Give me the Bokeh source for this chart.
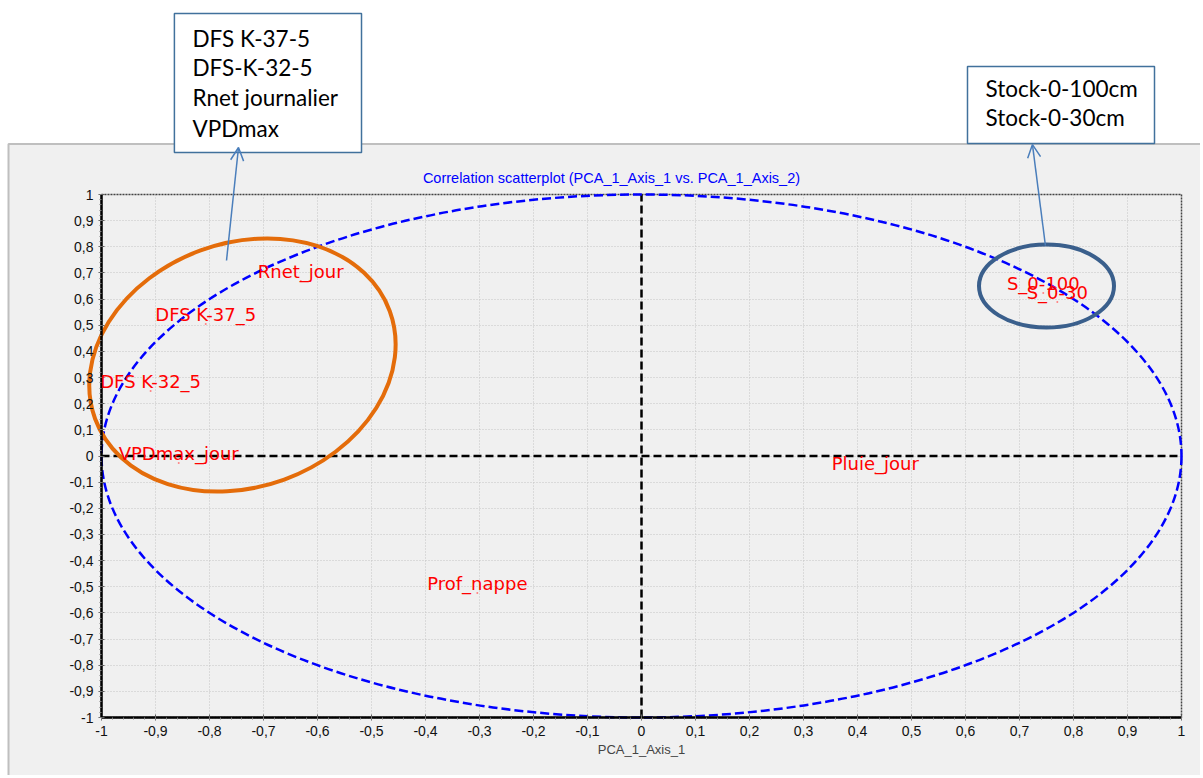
from bokeh.plotting import figure
from bokeh.models import (Range1d, SingleIntervalTicker, CustomJSTickFormatter, LinearAxis, Grid,
                          BoxAnnotation, Label, LabelSet, Arrow, OpenHead, ColumnDataSource)
from bokeh.core.properties import value
from bokeh.embed import file_html
from bokeh.resources import INLINE

# ---- data (variable correlations with PCA axes) ----
var_names = ["Rnet_jour", "DFS K-37_5", "DFS K-32_5", "VPDmax_jour", "Prof_nappe",
             "Pluie_jour", "S_0-100", "S_0-30"]
axis1 = [-0.631, -0.807, -0.909, -0.857, -0.304, 0.433, 0.744, 0.770]
axis2 = [0.669, 0.505, 0.249, -0.027, -0.524, -0.065, 0.623, 0.589]

left_box_lines = ["DFS K-37-5", "DFS-K-32-5", "Rnet journalier", "VPDmax"]
right_box_lines = ["Stock-0-100cm", "Stock-0-30cm"]
title_text = "Correlation scatterplot (PCA_1_Axis_1 vs. PCA_1_Axis_2)"
x_label = "PCA_1_Axis_1"

src = ColumnDataSource(dict(x=axis1, y=axis2, name=var_names))

W, H = 1200, 775
# the plotting frame covers the whole canvas; the [-1, 1] square sits at px 101..1181 / 194..717
XPX, YPX = 540.0, 261.5
x0 = -1 - 101 / XPX
x1 = 1 + (W - 1181) / XPX
y1 = 1 + 194 / YPX
y0 = -1 - (H - 717) / YPX

p = figure(width=W, height=H, output_backend="svg", toolbar_location=None,
           x_range=Range1d(x0, x1), y_range=Range1d(y0, y1),
           x_axis_type=None, y_axis_type=None, min_border=0)
p.background_fill_color = "white"
p.border_fill_color = "white"
p.outline_line_color = None

# grey panel
p.add_layout(BoxAnnotation(left=x0 + 8 / XPX, right=x1 + 1, top=1.193, bottom=y0 - 1,
                           fill_color="#f0f0f0", fill_alpha=1,
                           line_color="#bfbfbf", line_alpha=1, line_width=2, level="image"))

fmt = CustomJSTickFormatter(code="""
    if (Math.abs(tick - Math.round(tick)) < 1e-9) { return String(Math.round(tick)); }
    return tick.toFixed(1).replace('.', ',');
""")

xaxis = LinearAxis(fixed_location=-1, bounds=(-1, 1), axis_label=x_label)
yaxis = LinearAxis(fixed_location=-1, bounds=(-1, 1))
for ax in (xaxis, yaxis):
    ax.ticker = SingleIntervalTicker(interval=0.1, num_minor_ticks=5)
    ax.formatter = fmt
    ax.axis_line_color = "black"
    ax.axis_line_width = 2.5
    ax.major_tick_line_color = "#606060"
    ax.major_tick_in = 3
    ax.major_tick_out = 3
    ax.minor_tick_line_color = "#808080"
    ax.minor_tick_in = 0
    ax.minor_tick_out = 2
    ax.major_label_text_font = "Liberation Sans"
    ax.major_label_text_font_size = "14px"
    ax.major_label_text_color = "#111111"
    ax.major_label_standoff = 5
xaxis.axis_label_text_font = "Liberation Sans"
xaxis.axis_label_text_font_size = "13px"
xaxis.axis_label_text_font_style = "normal"
xaxis.axis_label_standoff = 3
p.add_layout(xaxis, "below")
p.add_layout(yaxis, "left")

for dim, ax in ((0, xaxis), (1, yaxis)):
    p.add_layout(Grid(dimension=dim, axis=ax, ticker=ax.ticker, bounds=(-1, 1), cross_bounds=(-1, 1),
                      grid_line_color="#c4c4c4", grid_line_dash="1 2", grid_line_width=1))

# dotted outline of the plotting area
p.add_layout(BoxAnnotation(left=-1, right=1, top=1, bottom=-1, fill_alpha=0,
                           line_color="#444444", line_alpha=1, line_dash="2 1", line_width=1.5,
                           level="underlay"))

# zero lines
p.segment(x0=[-1, 0], y0=[0, -1], x1=[1, 0], y1=[0, 1], line_color="black",
          line_width=2.5, line_dash="8 4")

# unit correlation circle
p.ellipse(x=0, y=0, width=2, height=2, fill_alpha=0, line_color="#0000ff",
          line_width=2.5, line_dash="9 4")

# highlight ellipses
p.ellipse(x=-0.739, y=0.348, width=0.581, height=0.933, angle=0.35, fill_alpha=0,
          line_color="#e46c0a", line_width=4)
p.ellipse(x=0.75, y=0.65, width=0.25, height=0.317, fill_alpha=0,
          line_color="#3a5f8c", line_width=4)

# points and names
p.scatter(x="x", y="y", source=src, size=2, color="#ff8080", line_width=0)
p.add_layout(LabelSet(x="x", y="y", text="name", source=src, text_color="#ff0000",
                      text_font=value("DejaVu Sans"), text_font_size="18px",
                      text_align="center", text_baseline="alphabetic", y_offset=3))

# title
p.add_layout(Label(x=-0.0556, y=1.065, text=title_text, text_color="#0000ff",
                   text_font="Liberation Sans", text_font_size="14.5px",
                   text_align="center", text_baseline="middle"))

# callout boxes
p.add_layout(BoxAnnotation(left=-0.865, right=-0.5185, top=1.692, bottom=1.1606,
                           fill_color="white", fill_alpha=1, line_color="#41719c",
                           line_alpha=1, line_width=1.5))
for txt, yy in zip(left_box_lines, [1.5966, 1.4857, 1.371, 1.2524]):
    p.add_layout(Label(x=-0.8315, y=yy, text=txt, text_color="black", text_font="Lato",
                       text_font_size="22.5px", text_baseline="middle"))
p.add_layout(BoxAnnotation(left=0.6037, right=0.95, top=1.4895, bottom=1.195,
                           fill_color="white", fill_alpha=1, line_color="#41719c",
                           line_alpha=1, line_width=1.5))
for txt, yy in zip(right_box_lines, [1.4054, 1.2945]):
    p.add_layout(Label(x=0.637, y=yy, text=txt, text_color="black", text_font="Lato",
                       text_font_size="22.5px", text_baseline="middle"))

# arrows
p.add_layout(Arrow(end=OpenHead(size=13, line_color="#4a7ebb", line_width=1.5),
                   x_start=-0.7685, y_start=0.7476, x_end=-0.7463, y_end=1.1797,
                   line_color="#4a7ebb", line_width=1.5))
p.add_layout(Arrow(end=OpenHead(size=13, line_color="#4a7ebb", line_width=1.5),
                   x_start=0.748, y_start=0.805, x_end=0.724, y_end=1.191,
                   line_color="#4a7ebb", line_width=1.5))

open("out.html", "w").write(file_html(p, INLINE))
